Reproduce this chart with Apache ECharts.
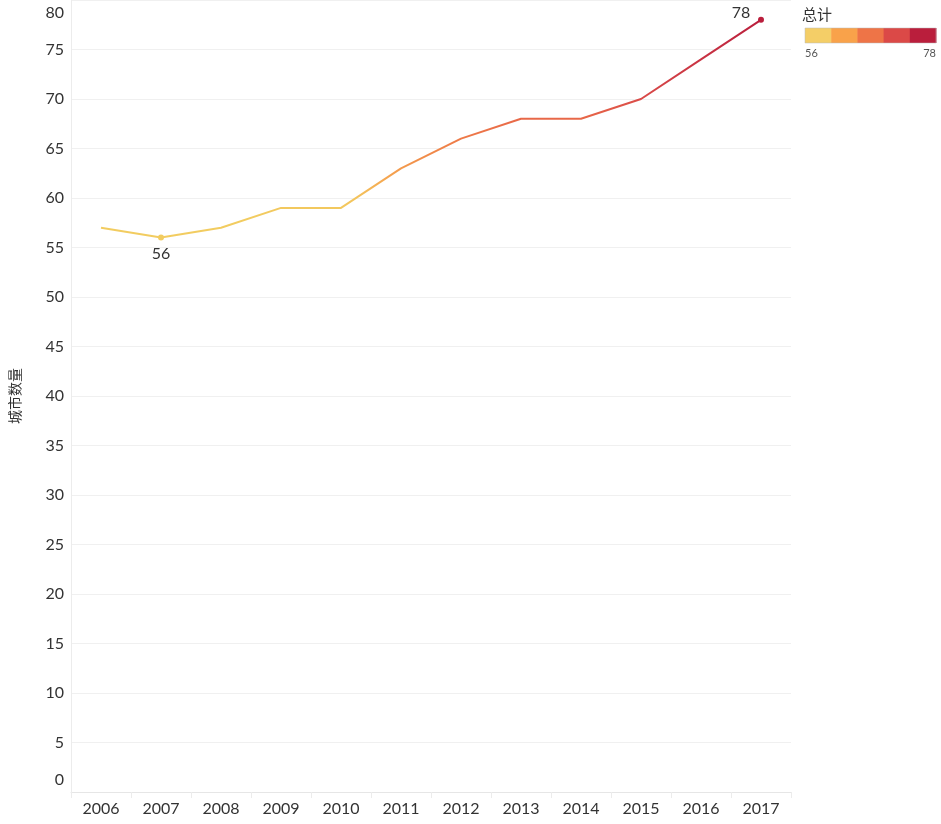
<!DOCTYPE html>
<html>
<head>
<meta charset="utf-8">
<script src="https://cdn.jsdelivr.net/npm/echarts@6/dist/echarts.min.js"></script>
<style>html,body{margin:0;padding:0;background:#fff}#c{width:941px;height:824px}</style>
</head>
<body>
<div id="c"></div>
<script>
var years = ['2006','2007','2008','2009','2010','2011','2012','2013','2014','2015','2016','2017'];
var cityCounts = [57, 56, 57, 59, 59, 63, 66, 68, 68, 70, 74, 78];
var labeledIndices = [1, 11];
var colorSteps = ['#F4CE67', '#F9A24A', '#EE7447', '#DB4947', '#BA1E3C'];
var lineColorRamp = ['#F2CC60', '#F2CC60', '#F3C45C', '#F5A650', '#F18E4A', '#EE7A48', '#E86848', '#DA4B48', '#D03E45', '#C93343', '#C12840', '#BA1E3C'];
var legendMin = 56, legendMax = 78;
var legendTitle = '总计';
var yName = '城市数量';

var chart = echarts.init(document.getElementById('c'));
var numFont = 'Lato, "Open Sans", sans-serif';
var cjkFont = '"Noto Sans CJK SC", sans-serif';

var seriesData = cityCounts.map(function (v, i) {
  var isLabeled = labeledIndices.indexOf(i) >= 0;
  var item = { value: v };
  if (isLabeled) {
    var last = i === cityCounts.length - 1;
    item.symbol = 'circle';
    item.symbolSize = 6;
    item.label = {
      show: true,
      position: last ? 'top' : 'bottom',
      offset: last ? [-20, 9] : [0, 0],
      distance: 5,
      fontSize: 16,
      fontFamily: numFont,
      color: '#333'
    };
  } else {
    item.symbol = 'none';
  }
  return item;
});

var legendX = 805, legendY = 28, legendW = 131, legendH = 15;
var cellW = legendW / colorSteps.length;
var legendChildren = colorSteps.map(function (c, i) {
  return { type: 'rect', shape: { x: legendX + i * cellW, y: legendY, width: cellW + 0.5, height: legendH }, style: { fill: c } };
});
legendChildren.push({ type: 'rect', shape: { x: legendX, y: legendY, width: legendW, height: legendH }, style: { fill: 'none', stroke: '#bbb', lineWidth: 0.5 } });
legendChildren.push({ type: 'text', x: 802, y: 7, style: { text: legendTitle, fontSize: 15, fontFamily: cjkFont, fill: '#333' } });
legendChildren.push({ type: 'text', x: legendX, y: 48, style: { text: String(legendMin), fontSize: 11, fontFamily: numFont, fill: '#555' } });
legendChildren.push({ type: 'text', x: legendX + legendW, y: 48, style: { text: String(legendMax), fontSize: 11, fontFamily: numFont, fill: '#555', align: 'right' } });

chart.setOption({
  animation: false,
  backgroundColor: '#fff',
  grid: { left: 69, right: 150, top: 0, bottom: 32, containLabel: false },
  xAxis: {
    type: 'category',
    data: years,
    boundaryGap: true,
    axisLine: { show: true, lineStyle: { color: '#e6e6e6', width: 1 } },
    axisTick: { show: true, length: 6, lineStyle: { color: '#ececec' } },
    axisLabel: { fontSize: 16, fontFamily: numFont, color: '#333', margin: 9 },
    splitLine: { show: false }
  },
  yAxis: {
    type: 'value',
    min: 0, max: 80, interval: 5,
    name: yName,
    nameLocation: 'middle',
    nameRotate: 90,
    nameGap: 49,
    nameTextStyle: { fontSize: 14, fontFamily: cjkFont, color: '#333' },
    axisLine: { show: true, lineStyle: { color: '#ececec' } },
    axisTick: { show: false },
    axisLabel: {
      fontSize: 16, fontFamily: numFont, color: '#333', margin: 7,
      verticalAlignMaxLabel: 'top', verticalAlignMinLabel: 'bottom',
      formatter: function (v) {
        if (v === 80) return '{top|' + v + '}';
        if (v === 0) return '{bot|' + v + '}';
        return String(v);
      },
      rich: {
        top: { fontSize: 16, fontFamily: numFont, color: '#333', padding: [5, 0, 0, 0] },
        bot: { fontSize: 16, fontFamily: numFont, color: '#333', padding: [0, 0, 4, 0] }
      }
    },
    splitLine: { show: true, lineStyle: { color: '#f0f0f0', width: 1 } }
  },
  visualMap: {
    show: false,
    type: 'continuous',
    dimension: 1,
    min: legendMin, max: legendMax,
    inRange: { color: lineColorRamp },
    seriesIndex: 0
  },
  series: [{
    type: 'line',
    data: seriesData,
    lineStyle: { width: 2 },
    showSymbol: true
  }],
  graphic: [{ type: 'group', children: legendChildren }]
});
</script>
</body>
</html>
